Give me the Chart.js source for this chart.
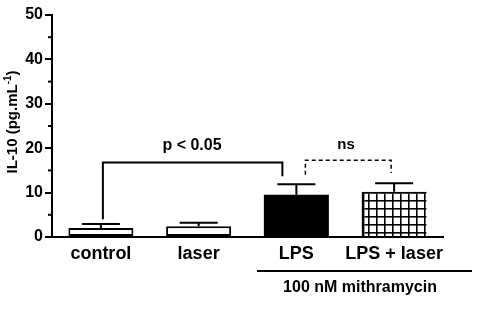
<!DOCTYPE html>
<html>
<head>
<meta charset="utf-8">
<script src="https://cdn.jsdelivr.net/npm/chart.js@4"></script>
<style>
  body { margin: 0; background: #fff; }
  #wrap { width: 488px; height: 310px; }
</style>
</head>
<body>
<div id="wrap"><canvas id="myChart" width="488" height="310"></canvas></div>
<script>
const labels = ['control', 'laser', 'LPS', 'LPS + laser'];
const means = [2.0, 2.4, 9.5, 10.2];
const errors = [0.9, 0.8, 2.4, 1.9];
const yTicks = [0, 10, 20, 30, 40, 50];

const font = 'bold 16px "Liberation Sans", Arial, sans-serif';

// grid pattern for the last bar
function gridPattern() {
  let c = document.createElement('canvas');
  c.width = 8;
  c.height = 8;
  let g = c.getContext('2d');
  g.fillStyle = '#fff';
  g.fillRect(0, 0, 8, 8);
  g.fillStyle = '#000';
  g.fillRect(0, 0, 8, 1.6);
  g.fillRect(0, 0, 1.6, 8);
  return g.createPattern(c, 'repeat');
}

const extras = {
  id: 'extras',
  afterDatasetsDraw(chart) {
    const ctx = chart.ctx;
    const x = chart.scales.x;
    const y = chart.scales.y;
    const meta = chart.getDatasetMeta(0);
    ctx.save();
    ctx.strokeStyle = '#000';
    ctx.lineWidth = 2;

    // error bars
    meta.data.forEach((bar, i) => {
      const top = y.getPixelForValue(means[i] + errors[i]);
      ctx.beginPath();
      ctx.moveTo(bar.x, bar.y);
      ctx.lineTo(bar.x, top);
      ctx.moveTo(bar.x - 19, top);
      ctx.lineTo(bar.x + 19, top);
      ctx.stroke();
    });

    // minor ticks
    for (let v = 5; v < 50; v += 10) {
      const py = y.getPixelForValue(v);
      ctx.beginPath();
      ctx.moveTo(y.right - 4, py);
      ctx.lineTo(y.right, py);
      ctx.stroke();
    }

    // p < 0.05 bracket
    const c0 = x.getPixelForValue(0) + 2;
    const c2 = x.getPixelForValue(2) - 14;
    ctx.beginPath();
    ctx.moveTo(c0, y.getPixelForValue(4));
    ctx.lineTo(c0, y.getPixelForValue(16.8));
    ctx.lineTo(c2, y.getPixelForValue(16.8));
    ctx.lineTo(c2, y.getPixelForValue(13.7));
    ctx.stroke();

    // ns bracket
    const d2 = x.getPixelForValue(2) + 9;
    const d3 = x.getPixelForValue(3) - 3;
    ctx.lineWidth = 1.5;
    ctx.setLineDash([4, 3]);
    ctx.beginPath();
    ctx.moveTo(d2, y.getPixelForValue(14));
    ctx.lineTo(d2, y.getPixelForValue(17.3));
    ctx.lineTo(d3, y.getPixelForValue(17.3));
    ctx.lineTo(d3, y.getPixelForValue(14.4));
    ctx.stroke();
    ctx.setLineDash([]);

    ctx.fillStyle = '#000';
    ctx.textAlign = 'center';
    ctx.textBaseline = 'middle';
    ctx.font = font;
    ctx.fillText('p < 0.05', 192, y.getPixelForValue(20.6));
    ctx.font = 'bold 15px "Liberation Sans", Arial, sans-serif';
    ctx.fillText('ns', 346, y.getPixelForValue(20.8));

    // group line and label
    ctx.lineWidth = 2;
    ctx.beginPath();
    ctx.moveTo(257, 271);
    ctx.lineTo(472, 271);
    ctx.stroke();
    ctx.font = font;
    ctx.fillText('100 nM mithramycin', 360, 288);

    // y axis title with superscript
    ctx.translate(13, 122);
    ctx.rotate(-Math.PI / 2);
    ctx.textAlign = 'left';
    const main = 'IL-10 (pg.mL';
    ctx.font = 'bold 15px "Liberation Sans", Arial, sans-serif';
    const w1 = ctx.measureText(main).width;
    ctx.font = 'bold 10px "Liberation Sans", Arial, sans-serif';
    const w2 = ctx.measureText('-1').width;
    ctx.font = 'bold 15px "Liberation Sans", Arial, sans-serif';
    const w3 = ctx.measureText(')').width;
    let sx = -(w1 + w2 + w3) / 2;
    ctx.fillText(main, sx, 0);
    ctx.font = 'bold 10px "Liberation Sans", Arial, sans-serif';
    ctx.fillText('-1', sx + w1, -5);
    ctx.font = 'bold 15px "Liberation Sans", Arial, sans-serif';
    ctx.fillText(')', sx + w1 + w2, 0);
    ctx.restore();
  }
};

const data = {
  labels: labels,
  datasets: [{
    data: means,
    backgroundColor: ['#fff', '#fff', '#000', gridPattern()],
    borderColor: '#000',
    borderWidth: [2, 2, 0, { left: 3, top: 2, right: 0, bottom: 0 }],
    borderSkipped: false,
    barPercentage: 0.665,
    categoryPercentage: 1
  }]
};

const config = {
  type: 'bar',
  data: data,
  plugins: [extras],
  options: {
    responsive: false,
    animation: false,
    layout: { padding: { top: 15, right: 45, left: 0, bottom: 0 } },
    plugins: { legend: { display: false }, tooltip: { enabled: false } },
    scales: {
      x: {
        offset: true,
        grid: { display: false, drawTicks: false },
        border: { color: '#000', width: 2 },
        ticks: {
          color: '#000',
          padding: 6,
          autoSkip: false,
          maxRotation: 0,
          minRotation: 0,
          font: { family: '"Liberation Sans", Arial, sans-serif', size: 18, weight: 'bold' }
        },
        afterFit(scale) { scale.height = 73; }
      },
      y: {
        min: 0,
        max: 50,
        afterBuildTicks(scale) { scale.ticks = yTicks.map(v => ({ value: v })); },
        grid: { drawOnChartArea: false, color: '#000', lineWidth: 2, tickLength: 7 },
        border: { color: '#000', width: 2 },
        ticks: {
          color: '#000',
          padding: 2,
          font: { family: '"Liberation Sans", Arial, sans-serif', size: 16, weight: 'bold' }
        },
        afterFit(scale) { scale.width = 52; }
      }
    }
  }
};

const myChart = new Chart(document.getElementById('myChart'), config);
</script>
</body>
</html>
